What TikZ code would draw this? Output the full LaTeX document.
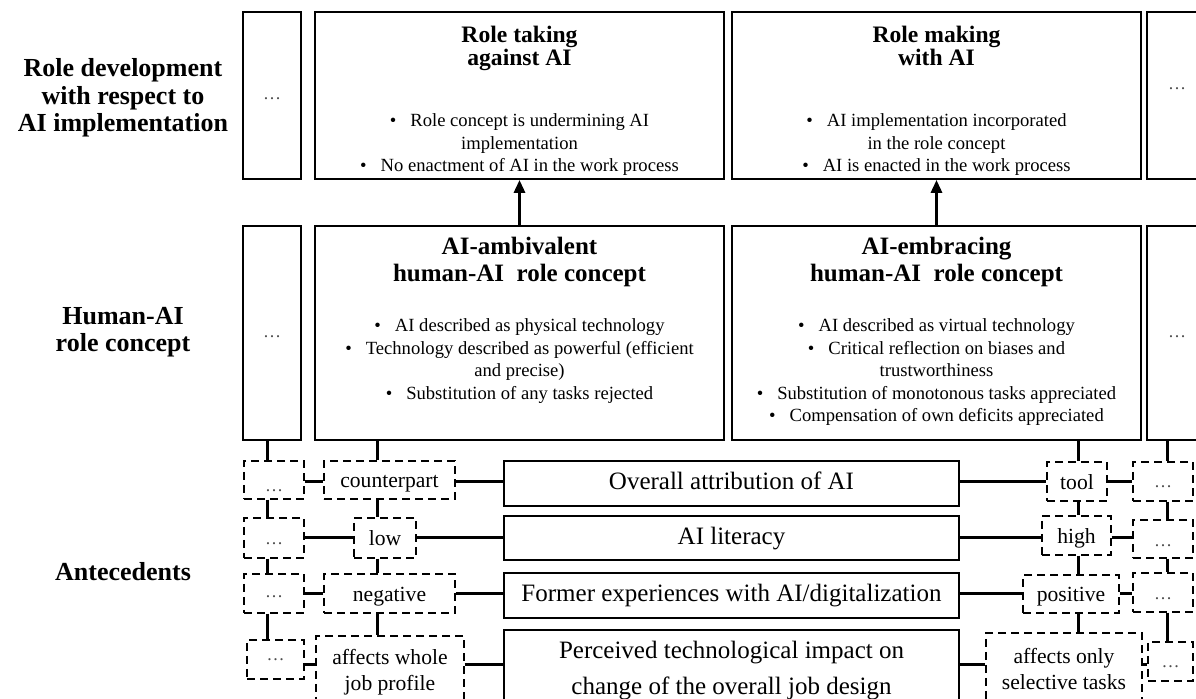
\documentclass[tikz,border=0pt]{standalone}
\usepackage{fontspec}
\setmainfont{Liberation Serif}
\usetikzlibrary{arrows.meta}

% font sizes
\newcommand{\tfont}{\fontsize{11.8}{11.4}\selectfont\bfseries}
\newcommand{\mfont}{\fontsize{12.5}{13.5}\selectfont\bfseries}
\newcommand{\bfont}{\fontsize{9.3}{11.3}\selectfont}
\newcommand{\afont}{\fontsize{12.5}{18}\selectfont}
\newcommand{\dfont}{\fontsize{10.8}{13}\selectfont}
\newcommand{\lfont}{\fontsize{13}{13.75}\selectfont\bfseries}
\newcommand{\dotfont}{\fontsize{9}{10}\selectfont\color{black!70}}
\newcommand{\bul}{\textbullet\hspace{7pt}}
\newcommand{\inbox}[3]{\parbox[c][#2][t]{#1}{\centering #3}}

\begin{document}
\begin{tikzpicture}[x=0.5pt,y=-0.5pt,
  box/.style={draw,line width=0.9pt,inner sep=0pt,align=center},
  abox/.style={box,font=\afont,minimum width=227.5pt,text height=8.75pt,text depth=2.7pt},
  dbox/.style={draw,dash pattern=on 4pt off 2.5pt,line width=0.55pt,inner sep=0pt,align=center,font=\dfont,text height=8pt,text depth=0pt},
  dots/.style={font=\dotfont,text height=#1,text depth=0pt},
  link/.style={line width=1.5pt},
  arr/.style={line width=1.5pt,-{Triangle[length=6.5pt,width=5.5pt]}}]
\useasboundingbox (0,0) rectangle (1196,699);

% row labels
\node[font=\lfont,align=center] (lrole) at (123,98) {Role development\\ with respect to\\ AI implementation};
\node[font=\lfont,align=center] (lconc) at (123,332) {Human-AI\\ role concept};
\node[font=\lfont,align=center] (lante) at (123,572) {Antecedents};

% role development
\node[box,dots=4.5pt,minimum width=29pt,minimum height=83.5pt] (tdl) at (272,95.5) {\ldots};
\node[box] (ttake) at (519.5,95.5) {\inbox{204.5pt}{83.5pt}{\vspace*{7.3pt}{\tfont Role taking\\ against AI\par}\vspace{19.2pt}
  {\bfont \bul Role concept is undermining AI\\ implementation\\ \bul No enactment of AI in the work process\par}}};
\node[box] (tmake) at (936.5,95.5) {\inbox{204.5pt}{83.5pt}{\vspace*{7.3pt}{\tfont Role making\\ with AI\par}\vspace{19.2pt}
  {\bfont \bul AI implementation incorporated\\ in the role concept\\ \bul AI is enacted in the work process\par}}};
\node[box,dots=0pt,text depth=5.5pt,minimum width=30pt,minimum height=83.5pt] (tdr) at (1177,95.5) {\ldots};

% role concepts
\node[box,dots=5pt,minimum width=29pt,minimum height=107pt] (mdl) at (272,333) {\ldots};
\node[box] (mamb) at (519.5,333) {\inbox{204.5pt}{107pt}{\vspace*{5.8pt}{\mfont AI-ambivalent\\ human-AI~~role concept\par}\vspace{13.5pt}
  {\bfont \bul AI described as physical technology\\ \bul Technology described as powerful (efficient\\ and precise)\\ \bul Substitution of any tasks rejected\par}}};
\node[box] (memb) at (936.5,333) {\inbox{204.5pt}{107pt}{\vspace*{5.8pt}{\mfont AI-embracing\\ human-AI~~role concept\par}\vspace{13.5pt}
  {\bfont \bul AI described as virtual technology\\ \bul Critical reflection on biases and\\ trustworthiness\\ \bul Substitution of monotonous tasks appreciated\\ \bul Compensation of own deficits appreciated\par}}};
\node[box,dots=5pt,minimum width=30pt,minimum height=107pt] (mdr) at (1177,333) {\ldots};

% antecedents
\node[abox,minimum height=22.5pt] (aattr) at (731.5,483.5) {Overall attribution of AI};
\node[abox,minimum height=22pt] (alit) at (731.5,538) {AI literacy};
\node[abox,minimum height=22.5pt] (aexp) at (731.5,595.5) {Former experiences with AI/digitalization};
\node[abox,text height={},text depth={},minimum height=41pt] (aimp) at (731.5,671) {Perceived technological impact on\\ change of the overall job design};

% ambivalent side
\node[dbox,dots=12pt,minimum width=30pt,minimum height=19pt] (dl1) at (274,480) {\ldots};
\node[dbox,minimum width=65.5pt,minimum height=19pt] (cntr) at (389.5,480) {counterpart};
\node[dbox,dots=7pt,minimum width=30pt,minimum height=20pt] (dl2) at (274,538) {\ldots};
\node[dbox,minimum width=31pt,minimum height=20pt] (low) at (385,538) {low};
\node[dbox,dots=4pt,minimum width=30pt,minimum height=19.5pt] (dl3) at (274,593.5) {\ldots};
\node[dbox,minimum width=65.5pt,minimum height=19.5pt] (neg) at (389.5,593.5) {negative};
\node[dbox,dots=1pt,minimum width=28.5pt,minimum height=19.5pt] (dl4) at (275.5,659.5) {\ldots};
\node[dbox,text height={},text depth={},minimum width=74pt,minimum height=36pt] (whole) at (390,672) {affects whole\\ job profile};

% embracing side
\node[dbox,minimum width=30pt,minimum height=19.5pt] (tool) at (1077,481.5) {tool};
\node[dbox,dots=6.5pt,minimum width=30pt,minimum height=19.5pt] (dr1) at (1163,481.5) {\ldots};
\node[dbox,minimum width=34.5pt,minimum height=19.5pt] (high) at (1076.5,535.5) {high};
\node[dbox,dots=8pt,minimum width=30pt,minimum height=19pt] (dr2) at (1163,539) {\ldots};
\node[dbox,minimum width=48pt,minimum height=19pt] (pos) at (1071,594) {positive};
\node[dbox,dots=7.5pt,minimum width=30pt,minimum height=19.5pt] (dr3) at (1163,592.5) {\ldots};
\node[dbox,text height={},text depth={},minimum width=78pt,minimum height=36pt] (only) at (1064,669) {affects only\\ selective tasks};
\node[dbox,dots=6.5pt,minimum width=22.5pt,minimum height=19.5pt] (dr4) at (1170.5,661.5) {\ldots};

% arrows
\draw[arr] (mamb.north) -- (ttake.south);
\draw[arr] (memb.north) -- (tmake.south);

% vertical links
\coordinate (xa) at (267,0);
\coordinate (xb) at (377,0);
\coordinate (xc) at (1078,0);
\coordinate (xd) at (1167,0);
\draw[link] (mdl.south -| xa) -- (dl1.north -| xa);
\draw[link] (dl1.south -| xa) -- (dl2.north -| xa);
\draw[link] (dl2.south -| xa) -- (dl3.north -| xa);
\draw[link] (dl3.south -| xa) -- (dl4.north -| xa);
\draw[link] (mamb.south -| xb) -- (cntr.north -| xb);
\draw[link] (cntr.south -| xb) -- (low.north -| xb);
\draw[link] (low.south -| xb) -- (neg.north -| xb);
\draw[link] (neg.south -| xb) -- (whole.north -| xb);
\draw[link] (memb.south -| xc) -- (tool.north -| xc);
\draw[link] (tool.south -| xc) -- (high.north -| xc);
\draw[link] (high.south -| xc) -- (pos.north -| xc);
\draw[link] (pos.south -| xc) -- (only.north -| xc);
\draw[link] (mdr.south -| xd) -- (dr1.north -| xd);
\draw[link] (dr1.south -| xd) -- (dr2.north -| xd);
\draw[link] (dr2.south -| xd) -- (dr3.north -| xd);
\draw[link] (dr3.south -| xd) -- (dr4.north -| xd);

% horizontal links
\coordinate (ya) at (0,482);
\coordinate (yb) at (0,537.5);
\coordinate (yc) at (0,594);
\coordinate (yd) at (0,665);
\draw[link] (dl1.east |- ya) -- (cntr.west |- ya);
\draw[link] (cntr.east |- ya) -- (aattr.west |- ya);
\draw[link] (aattr.east |- ya) -- (tool.west |- ya);
\draw[link] (tool.east |- ya) -- (dr1.west |- ya);
\draw[link] (dl2.east |- yb) -- (low.west |- yb);
\draw[link] (low.east |- yb) -- (alit.west |- yb);
\draw[link] (alit.east |- yb) -- (high.west |- yb);
\draw[link] (high.east |- yb) -- (dr2.west |- yb);
\draw[link] (dl3.east |- yc) -- (neg.west |- yc);
\draw[link] (neg.east |- yc) -- (aexp.west |- yc);
\draw[link] (aexp.east |- yc) -- (pos.west |- yc);
\draw[link] (pos.east |- yc) -- (dr3.west |- yc);
\draw[link] (dl4.east |- yd) -- (whole.west |- yd);
\draw[link] (whole.east |- yd) -- (aimp.west |- yd);
\draw[link] (aimp.east |- yd) -- (only.west |- yd);
\draw[link] (only.east |- yd) -- (dr4.west |- yd);
\end{tikzpicture}
\end{document}
